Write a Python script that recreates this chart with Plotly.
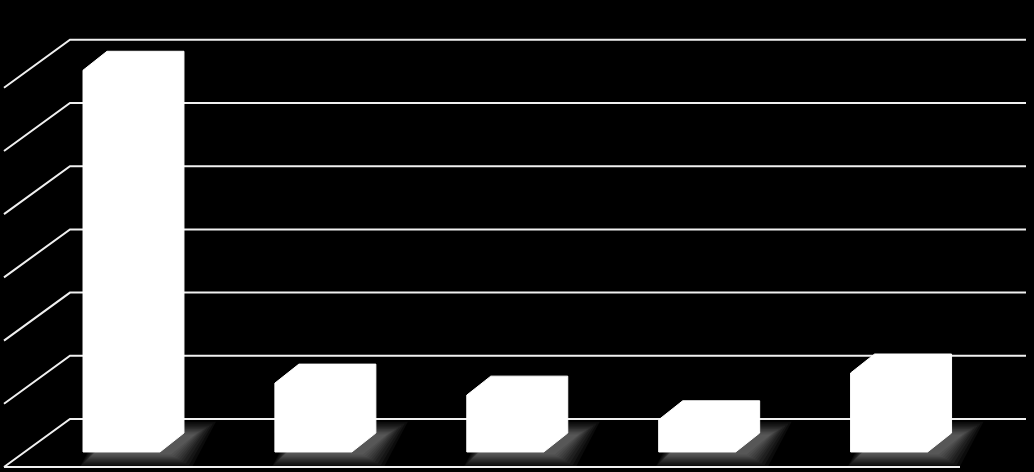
import plotly.graph_objects as go

# ---- data ----
categories = [0, 1, 2, 3, 4]
values = [6.04, 1.09, 0.90, 0.51, 1.25]
grid_values = [0, 1, 2, 3, 4, 5, 6]

# ---- geometry (axis units) ----
X_RANGE = [-0.6331, 4.7551]
Y_RANGE = [-0.8386, 6.6297]
PX_X, PX_Y = 191.9, 63.25             # pixels per axis unit
WALL_L, WALL_R = -0.2684, 4.7134      # back wall horizontal extent
FLOOR_DX, FLOOR_DY = -0.3439, -0.759  # depth from wall to front edge
BAR_BASE = -0.5217                    # screen base of bar front face
BAR_W = 0.401
BAR_DX, BAR_DY = 0.125, 0.300         # bar depth offset

LINE_COL = "#f0f0f0"
fig = go.Figure()

# front faces (library bars)
fig.add_trace(go.Bar(
    x=categories, y=values, base=BAR_BASE, width=BAR_W,
    marker=dict(color="white", line=dict(width=0)),
    hoverinfo="skip", showlegend=False))

# gridlines: back wall + left wall diagonals
for v in grid_values:
    fig.add_trace(go.Scatter(
        x=[WALL_L + FLOOR_DX, WALL_L, WALL_R],
        y=[v + FLOOR_DY, v, v],
        mode="lines", line=dict(color=LINE_COL, width=2),
        hoverinfo="skip", showlegend=False))
# floor front edge
fig.add_trace(go.Scatter(
    x=[WALL_L + FLOOR_DX, WALL_R + FLOOR_DX],
    y=[FLOOR_DY, FLOOR_DY],
    mode="lines", line=dict(color=LINE_COL, width=2),
    hoverinfo="skip", showlegend=False))

# soft (blurred) shadows on the floor
blur_steps = [22, 19, 16, 13, 11, 9, 7, 5, 3, 1]
for c in categories:
    xl, xr = c - BAR_W / 2, c + BAR_W / 2
    b = BAR_BASE
    sx, sy = 10 / PX_X, -2 / PX_Y
    for g in blur_steps:
        gx, gy = g / PX_X, g * 0.6 / PX_Y
        xs = [xl - gx * 0.6, xr + gx, xr + BAR_DX + gx, xl + BAR_DX - gx * 0.6]
        ys = [b - gy, b - gy, b + BAR_DY + gy, b + BAR_DY + gy]
        fig.add_trace(go.Scatter(
            x=[x + sx for x in xs], y=[y + sy for y in ys],
            fill="toself", fillcolor="rgba(255,255,255,0.045)",
            mode="none", hoverinfo="skip", showlegend=False))

# full bar silhouettes (front, top and side faces)
for c, v in zip(categories, values):
    xl, xr = c - BAR_W / 2, c + BAR_W / 2
    b, t = BAR_BASE, BAR_BASE + v
    fig.add_trace(go.Scatter(
        x=[xl, xr, xr + BAR_DX, xr + BAR_DX, xl + BAR_DX, xl, xl],
        y=[b, b, b + BAR_DY, t + BAR_DY, t + BAR_DY, t, b],
        fill="toself", fillcolor="white",
        mode="lines", line=dict(color="white", width=1),
        hoverinfo="skip", showlegend=False))

fig.update_layout(
    width=1034, height=472,
    margin=dict(l=0, r=0, t=0, b=0),
    paper_bgcolor="black", plot_bgcolor="black",
    xaxis=dict(range=X_RANGE, visible=False, fixedrange=True),
    yaxis=dict(range=Y_RANGE, visible=False, fixedrange=True),
    showlegend=False,
)

fig.write_html(
    "out.html",
    config={"displayModeBar": False, "staticPlot": True},
    post_script="document.body.style.margin='0';document.body.style.padding='0';"
                "document.body.style.background='black';document.body.style.overflow='hidden';",
)
